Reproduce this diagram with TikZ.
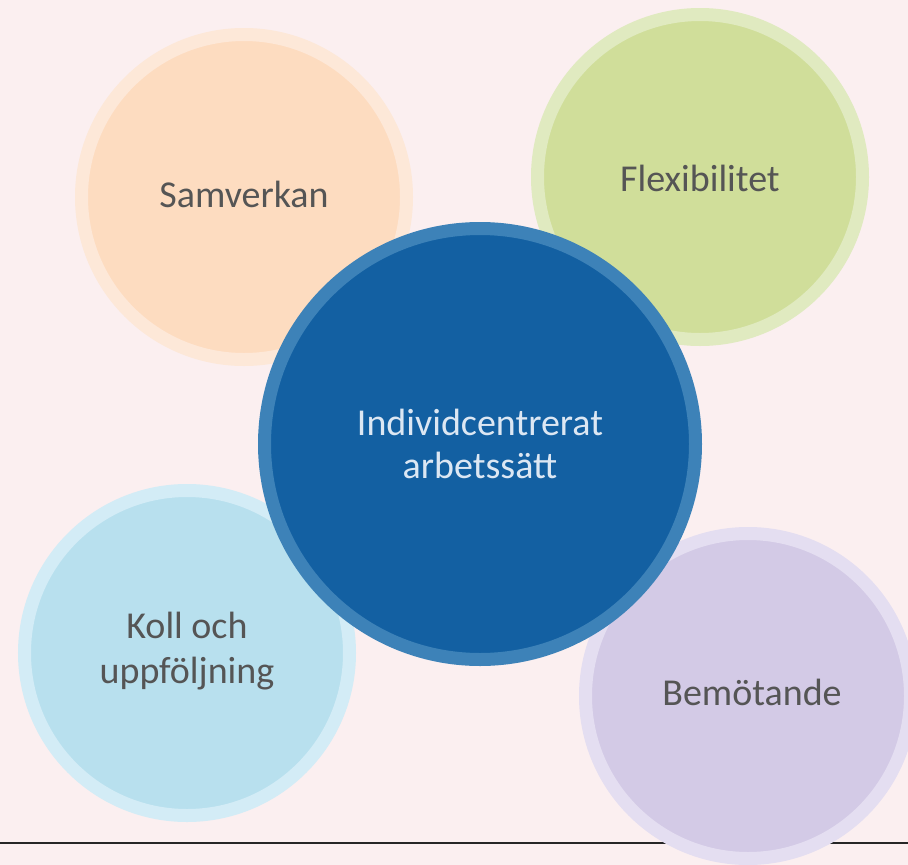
\documentclass[tikz,border=0pt]{standalone}
\usepackage{fontspec}
\setmainfont{Carlito}
\definecolor{bgpink}{HTML}{FBEFF0}
\definecolor{peachin}{HTML}{FDDCC0}
\definecolor{peachout}{HTML}{FDE8D8}
\definecolor{greenin}{HTML}{D0DE9A}
\definecolor{greenout}{HTML}{E0EAC0}
\definecolor{bluein}{HTML}{1360A2}
\definecolor{blueout}{HTML}{3D82B8}
\definecolor{skyin}{HTML}{B8E0EE}
\definecolor{skyout}{HTML}{D3ECF6}
\definecolor{lilacin}{HTML}{D3CAE6}
\definecolor{lilacout}{HTML}{E4DEF1}
\definecolor{labelgray}{HTML}{555555}
\definecolor{centertext}{HTML}{DCE7F3}
\begin{document}
\begin{tikzpicture}[x=1pt,y=-1pt,
  bubble/.style={circle,minimum size=325pt,line width=13pt,align=center,
    text=labelgray,font=\fontsize{38}{45}\selectfont}]

\useasboundingbox (0,0) rectangle (908,865);
\clip (0,0) rectangle (908,865);
\fill[bgpink] (0,0) rectangle (908,865);

\coordinate (ruleL) at (0,843);
\coordinate (ruleR) at (908,843);
\draw[line width=2pt,black!85] (ruleL) -- (ruleR);

% the four outer circles
\node[bubble,fill=peachin,draw=peachout] (samverkan) at (244,197) {};
\node[bubble,fill=greenin,draw=greenout] (flex) at (700,177) {};
\node[bubble,fill=skyin,draw=skyout] (koll) at (187,653) {};
\node[bubble,fill=lilacin,draw=lilacout] (bemot) at (748,696) {};

\node[font=\fontsize{38}{45}\selectfont,text=labelgray] (samtext) at (244,194) {Samverkan};
\node[font=\fontsize{38}{45}\selectfont,text=labelgray] (flextext) at (700,178) {Flexibilitet};
\node[font=\fontsize{38}{45}\selectfont,text=labelgray,align=center] (kolltext) at (187,651) {Koll och\\uppföljning};
\node[font=\fontsize{38}{45}\selectfont,text=labelgray] (bemottext) at (752,692) {Bemötande};

% center
\node[bubble,minimum size=431pt,fill=bluein,draw=blueout,text=centertext,
  font=\fontsize{38}{43}\selectfont] (center) at (480,444) {Individcentrerat\\arbetssätt};

\end{tikzpicture}
\end{document}
